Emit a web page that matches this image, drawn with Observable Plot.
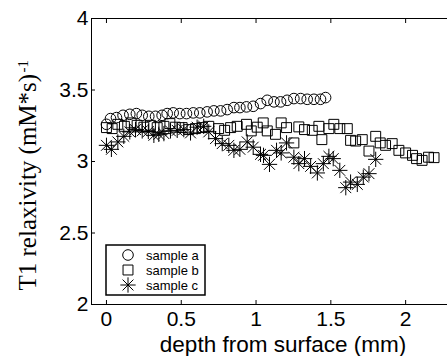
<!DOCTYPE html>
<html><head><meta charset="utf-8">
<script src="https://cdn.jsdelivr.net/npm/d3@7"></script>
<script src="https://cdn.jsdelivr.net/npm/@observablehq/plot@0.6"></script>
<style>
html,body{margin:0;padding:0;background:#fff;overflow:hidden;}
#wrap{position:relative;width:447px;height:356px;overflow:hidden;}
#wrap svg{overflow:hidden;display:block;}
</style>
</head><body><div id="wrap"></div>
<script>
// sample a (circles)
const aDepth = [0,0.027,0.067,0.111,0.156,0.2,0.239,0.283,0.328,0.372,0.406,0.446,0.49,0.535,0.58,0.624,0.673,0.718,0.763,0.807,0.852,0.892,0.936,0.981,1.03,1.075,1.12,1.164,1.208,1.253,1.298,1.342,1.387,1.431,1.465];
const aValue = [3.26,3.3,3.307,3.323,3.33,3.335,3.323,3.316,3.316,3.323,3.335,3.34,3.335,3.335,3.34,3.34,3.347,3.354,3.354,3.363,3.377,3.377,3.382,3.386,3.405,3.428,3.417,3.417,3.428,3.44,3.44,3.435,3.435,3.435,3.447];
// sample b (squares)
const bDepth = [0,0.038,0.076,0.12,0.165,0.205,0.25,0.294,0.339,0.384,0.424,0.46,0.506,0.55,0.595,0.64,0.684,0.75,0.79,0.83,0.874,0.936,0.968,1.008,1.048,1.075,1.13,1.168,1.204,1.253,1.286,1.324,1.376,1.42,1.44,1.487,1.52,1.56,1.61,1.632,1.666,1.71,1.755,1.8,1.83,1.866,1.91,1.955,2.0,2.046,2.073,2.11,2.153,2.19];
const bValue = [3.237,3.23,3.26,3.246,3.27,3.253,3.24,3.253,3.237,3.246,3.265,3.24,3.237,3.223,3.23,3.237,3.246,3.23,3.218,3.237,3.246,3.26,3.214,3.24,3.27,3.214,3.19,3.27,3.237,3.13,3.242,3.223,3.218,3.246,3.153,3.23,3.26,3.23,3.23,3.148,3.143,3.153,3.073,3.176,3.13,3.113,3.125,3.078,3.06,3.043,3.02,3.008,3.03,3.027];
// sample c (stars)
const cDepth = [0,0.033,0.076,0.116,0.156,0.194,0.239,0.28,0.317,0.35,0.384,0.428,0.473,0.517,0.562,0.606,0.65,0.684,0.729,0.774,0.818,0.852,0.892,0.941,0.981,1.03,1.05,1.09,1.137,1.168,1.204,1.253,1.286,1.324,1.365,1.41,1.45,1.487,1.516,1.56,1.6,1.632,1.677,1.717,1.755,1.8];
const cValue = [3.113,3.085,3.137,3.176,3.207,3.223,3.214,3.21,3.183,3.19,3.195,3.214,3.218,3.223,3.2,3.24,3.246,3.207,3.16,3.125,3.113,3.078,3.085,3.137,3.1,3.05,3.043,2.98,3.078,3.06,3.13,3.03,2.985,3.02,2.966,2.92,2.985,3.036,3.02,2.938,2.817,2.856,2.84,2.891,2.915,3.015];

const xTicks = [0,0.5,1,1.5,2];
const xTickLabels = ["0","0.5","1","1.5","2"];
const yTicks = [2,2.5,3,3.5,4];
const yTickLabels = ["2","2.5","3","3.5","4"];
const seriesNames = ["sample a","sample b","sample c"];
const xTitle = "depth from surface (mm)";
const yTitle = "T1 relaxivity (mM*s)";
const yTitleSup = "-1";

const A = aDepth.map((d,i)=>({depth:d, value:aValue[i]}));
const B = bDepth.map((d,i)=>({depth:d, value:bValue[i]}));
const C = cDepth.map((d,i)=>({depth:d, value:cValue[i]}));

const sans = '"Liberation Sans", Arial, Helvetica, sans-serif';
const serif = '"Liberation Serif", "Times New Roman", serif';

const chart = Plot.plot({
  width: 447, height: 356,
  marginLeft: 91, marginRight: -3, marginTop: 18, marginBottom: 52,
  style: {fontFamily: sans, fontSize: "21px", color: "#000", background: "#fff", overflow: "hidden"},
  x: {domain: [-0.1, 2.3]},
  y: {domain: [2, 4]},
  marks: [
    Plot.frame({stroke: "#000", strokeWidth: 1}),
    // inward tick marks on all four sides
    Plot.axisX({anchor: "bottom", ticks: xTicks, tickSize: -4, tickFormat: () => "", label: null}),
    Plot.axisX({anchor: "top", ticks: xTicks, tickSize: -4, tickFormat: () => "", label: null}),
    Plot.axisY({anchor: "left", ticks: yTicks, tickSize: -4, tickFormat: () => "", label: null}),
    Plot.axisY({anchor: "right", ticks: yTicks, tickSize: -4, tickFormat: () => "", label: null}),
    // tick labels
    Plot.axisX({anchor: "bottom", ticks: xTicks, tickSize: 0, tickPadding: 7, tickFormat: d => xTickLabels[xTicks.indexOf(d)], fontSize: 21, label: null}),
    Plot.axisY({anchor: "left", ticks: yTicks, tickSize: 0, tickPadding: 3, tickFormat: d => yTickLabels[yTicks.indexOf(d)], fontSize: 21, label: null}),
    Plot.dot(A, {x: "depth", y: "value", r: 5.3, symbol: "circle", fill: "none", stroke: "#000", strokeWidth: 1}),
    Plot.dot(B, {x: "depth", y: "value", r: 5.6, symbol: "square", fill: "none", stroke: "#000", strokeWidth: 1}),
    Plot.dot(C, {x: "depth", y: "value", r: 5, symbol: "plus", fill: "none", stroke: "#000", strokeWidth: 1}),
    Plot.dot(C, {x: "depth", y: "value", r: 5, symbol: "times", fill: "none", stroke: "#000", strokeWidth: 1}),
    Plot.text([xTitle], {frameAnchor: "bottom", dx: 12, dy: 47, lineAnchor: "bottom", fontSize: 22.5, fill: "#000"}),
    Plot.text([yTitle], {frameAnchor: "bottom-left", dx: -56, dy: -14, rotate: -90, textAnchor: "start", lineAnchor: "bottom", fontSize: 25, fontFamily: serif, fill: "#000"}),
    Plot.text([yTitleSup], {frameAnchor: "top-left", dx: -64, dy: 54, rotate: -90, textAnchor: "start", lineAnchor: "bottom", fontSize: 15, fontFamily: serif, fill: "#000"})
  ]
});
document.getElementById("wrap").appendChild(chart);

// legend box inside the axes
const svg = d3.select(chart);
const lg = svg.append("g").attr("class", "legend");
lg.append("rect").attr("x", 106).attr("y", 245).attr("width", 99).attr("height", 50)
  .attr("fill", "#fff").attr("stroke", "#000").attr("stroke-width", 1.5);
const rowY = [255, 270, 285];
seriesNames.forEach((name, i) => {
  const g = lg.append("g").attr("transform", `translate(128,${rowY[i]})`);
  if (i === 0) g.append("circle").attr("r", 5.3).attr("fill", "none").attr("stroke", "#000");
  else if (i === 1) g.append("path").attr("d", d3.symbol(d3.symbolSquare, Math.PI * 5.6 * 5.6)()).attr("fill", "none").attr("stroke", "#000");
  else {
    g.append("path").attr("d", d3.symbol(d3.symbolPlus, Math.PI * 25)()).attr("fill", "none").attr("stroke", "#000");
    g.append("path").attr("d", d3.symbol(d3.symbolTimes, Math.PI * 25)()).attr("fill", "none").attr("stroke", "#000");
  }
  lg.append("text").attr("x", 146).attr("y", rowY[i]).attr("dy", "0.35em")
    .attr("text-anchor", "start")
    .attr("font-family", sans).attr("font-size", 13).attr("fill", "#000").text(name);
});
</script>
</body></html>
